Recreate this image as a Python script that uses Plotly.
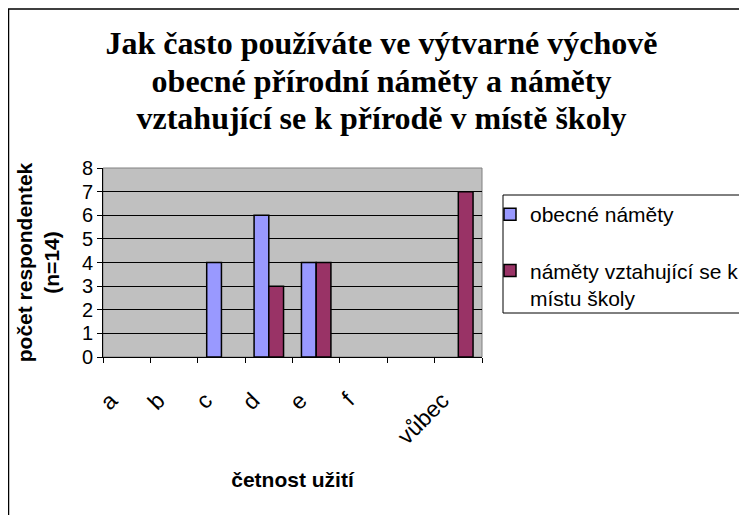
import plotly.graph_objects as go

categories = ["a", "b", "c", "d", "e", "f", " ", "vůbec"]
obecne = [0, 0, 4, 6, 4, 0, 0, 0]
misto = [0, 0, 0, 3, 4, 0, 0, 7]
y_ticks = [0, 1, 2, 3, 4, 5, 6, 7, 8]
title_lines = ["Jak často používáte ve výtvarné výchově",
               "obecné přírodní náměty a náměty",
               "vztahující se k přírodě v místě školy"]

W, H = 747, 515
OFF = 8  # browser body margin offset between page and figure
L, R, T, B = 103 - OFF, W - (482 - OFF), 168 - OFF, H - (357 - OFF)
pw, ph = W - L - R, H - T - B

def px2x(px):
    return (px - OFF - L) / pw

def py2y(py):
    return (H - B - (py - OFF)) / ph

def nz(vals):
    return [v if v else None for v in vals]

title_text = "<br>".join('<span style="font-size:32px">%s</span>' % s for s in title_lines)

fig = go.Figure()
fig.add_trace(go.Bar(x=categories, y=nz(obecne), name="obecné náměty",
                     marker=dict(color="#9999FF", line=dict(color="black", width=1.5)),
                     legendgroup="g1"))
fig.add_trace(go.Bar(x=categories, y=nz(misto), name="náměty vztahující se k<br>místu školy",
                     marker=dict(color="#993366", line=dict(color="black", width=1.5)),
                     legendgroup="g2"))

fig.update_layout(
    width=W, height=H,
    margin=dict(l=L, r=R, t=T, b=B, autoexpand=False),
    paper_bgcolor="white", plot_bgcolor="#C0C0C0",
    barmode="group", bargap=0.378, bargroupgap=0,
    font=dict(family="Liberation Sans, Arial", color="black", size=20),
    title=dict(text=title_text,
               font=dict(family="Liberation Serif, Times New Roman", size=29, color="black", weight="bold"),
               x=0.5, xref="container", xanchor="center",
               y=1 - (54 - OFF) / H, yref="container", yanchor="middle"),
    showlegend=True,
    legend=dict(x=px2x(490), y=py2y(194), xanchor="left", yanchor="top",
                xref="paper", yref="paper",
                bgcolor="rgba(0,0,0,0)", borderwidth=0,
                font=dict(size=21, family="Liberation Sans, Arial"),
                valign="top", tracegroupgap=26, traceorder="grouped"),
    xaxis=dict(showline=True, linecolor="black", linewidth=1,
               ticks="outside", ticklen=5, tickcolor="black", tickson="boundaries",
               tickangle=-45, tickfont=dict(size=23),
               ticklabelstandoff=20, ticklabelshift=-16,
               title=dict(text="<b>četnost užití</b>", font=dict(size=21), standoff=24),
               showgrid=False),
    yaxis=dict(range=[0, 8], tickvals=y_ticks, showline=True, linecolor="black", linewidth=1,
               ticks="outside", ticklen=5, tickcolor="black",
               tickfont=dict(size=20),
               showgrid=True, gridcolor="black", gridwidth=1,
               zeroline=False,
               title=dict(text="<b>počet respondentek<br>(n=14)</b>", font=dict(size=21), standoff=16)),
    shapes=[
        dict(type="rect", xref="paper", yref="paper", x0=0, x1=1, y0=0, y1=1,
             line=dict(color="#808080", width=1), layer="below"),
        dict(type="rect", xref="paper", yref="paper",
             x0=px2x(8.5), x1=px2x(770), y0=py2y(540), y1=py2y(9),
             line=dict(color="black", width=1.5)),
        dict(type="rect", xref="paper", yref="paper",
             x0=px2x(503), x1=px2x(770), y0=py2y(313), y1=py2y(195),
             line=dict(color="black", width=1)),
    ],
)

fig.write_html("out.html")
